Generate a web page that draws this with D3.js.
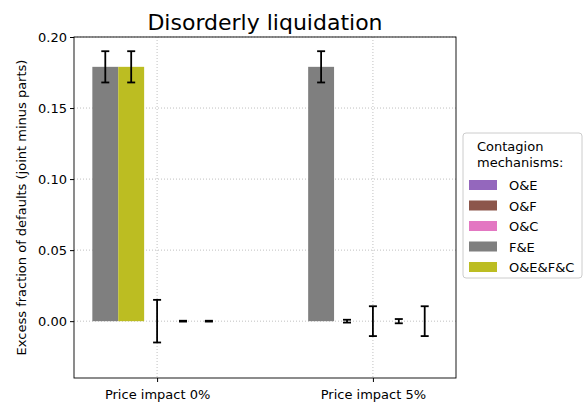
<!DOCTYPE html><html><head><meta charset="utf-8"><script src="https://cdn.jsdelivr.net/npm/d3@7"></script>
<style>body{margin:0;background:#fff}text{font-family:"DejaVu Sans",sans-serif}</style></head><body><svg width="585" height="405"></svg>
<script>
const groups=["Price impact 0%","Price impact 5%"];
const series=["O&E","O&F","O&C","F&E","O&E&F&C"];
const colors=["#9467bd","#8c564b","#e377c2","#7f7f7f","#bcbd22"];
const slotSeries=[[3,4,0,1,2],[3,0,1,2,4]];
const slotValues=[[0.179,0.179,0,0,0],[0.179,0,0,0,0]];
const slotErrors=[[0.011,0.011,0.015,0.0003,0.0003],[0.011,0.001,0.0105,0.0015,0.0105]];
const yTicks=[0,0.05,0.10,0.15,0.20];
const svg=d3.select("svg");
const L=74,R=456,T=37,B=378;
const x=d3.scaleLinear().domain([-0.385,1.385]).range([L,R]);
const y=d3.scaleLinear().domain([-0.04,0.2]).range([B,T]);
const w=0.12;
const g=svg.append("g");
yTicks.forEach(t=>g.append("line").attr("x1",L).attr("x2",R).attr("y1",y(t)).attr("y2",y(t)).attr("stroke","#b0b0b0").attr("stroke-dasharray","1,2").attr("stroke-width",0.8));
groups.forEach((_,i)=>g.append("line").attr("x1",x(i)).attr("x2",x(i)).attr("y1",T).attr("y2",B).attr("stroke","#b0b0b0").attr("stroke-dasharray","1,2").attr("stroke-width",0.8));
groups.forEach((gr,i)=>{slotSeries[i].forEach((s,j)=>{
 const cx=i+(j-2)*w, v=slotValues[i][j];
 if(v!==0) g.append("rect").attr("x",x(cx-w/2)).attr("width",x(w)-x(0)).attr("y",y(Math.max(v,0))).attr("height",Math.abs(y(v)-y(0))).attr("fill",colors[s]);
});});
groups.forEach((gr,i)=>{slotSeries[i].forEach((s,j)=>{
 const cx=x(i+(j-2)*w), v=slotValues[i][j], e=slotErrors[i][j];
 g.append("line").attr("x1",cx).attr("x2",cx).attr("y1",y(v-e)).attr("y2",y(v+e)).attr("stroke","#000").attr("stroke-width",1.8);
 [v-e,v+e].forEach(q=>g.append("line").attr("x1",cx-4).attr("x2",cx+4).attr("y1",y(q)).attr("y2",y(q)).attr("stroke","#000").attr("stroke-width",1.8));
});});
svg.append("rect").attr("x",L).attr("y",T).attr("width",R-L).attr("height",B-T).attr("fill","none").attr("stroke","#000").attr("stroke-width",0.9);
const ya=svg.append("g").attr("transform",`translate(${L},0)`).call(d3.axisLeft(y).tickValues(yTicks).tickFormat(d3.format(".2f")).tickSize(4));
const xa=svg.append("g").attr("transform",`translate(0,${B})`).call(d3.axisBottom(x).tickValues([0,1]).tickFormat((d)=>groups[d]).tickSize(4));
[ya,xa].forEach(a=>{a.select(".domain").remove();a.selectAll("text").attr("font-size",13).attr("fill","#000").style("font-family","DejaVu Sans");});
xa.selectAll("text").attr("dy","1.1em");
svg.append("text").attr("x",(L+R)/2).attr("y",30).attr("text-anchor","middle").attr("font-size",22).text("Disorderly liquidation");
svg.append("text").attr("transform",`translate(26,${(T+B)/2}) rotate(-90)`).attr("text-anchor","middle").attr("font-size",13).text("Excess fraction of defaults (joint minus parts)");
const lg=svg.append("g").attr("transform","translate(463,133)");
lg.append("rect").attr("width",119).attr("height",145).attr("rx",3).attr("fill","#fff").attr("stroke","#ccc");
lg.append("text").attr("x",14).attr("y",18).attr("font-size",13).text("Contagion");
lg.append("text").attr("x",14).attr("y",34).attr("font-size",13).text("mechanisms:");
series.forEach((s,i)=>{const yy=47+i*20.5;
 lg.append("rect").attr("x",6).attr("y",yy).attr("width",28).attr("height",10).attr("fill",colors[i]);
 lg.append("text").attr("x",46).attr("y",yy+10).attr("font-size",13).text(s);});
</script></body></html>
